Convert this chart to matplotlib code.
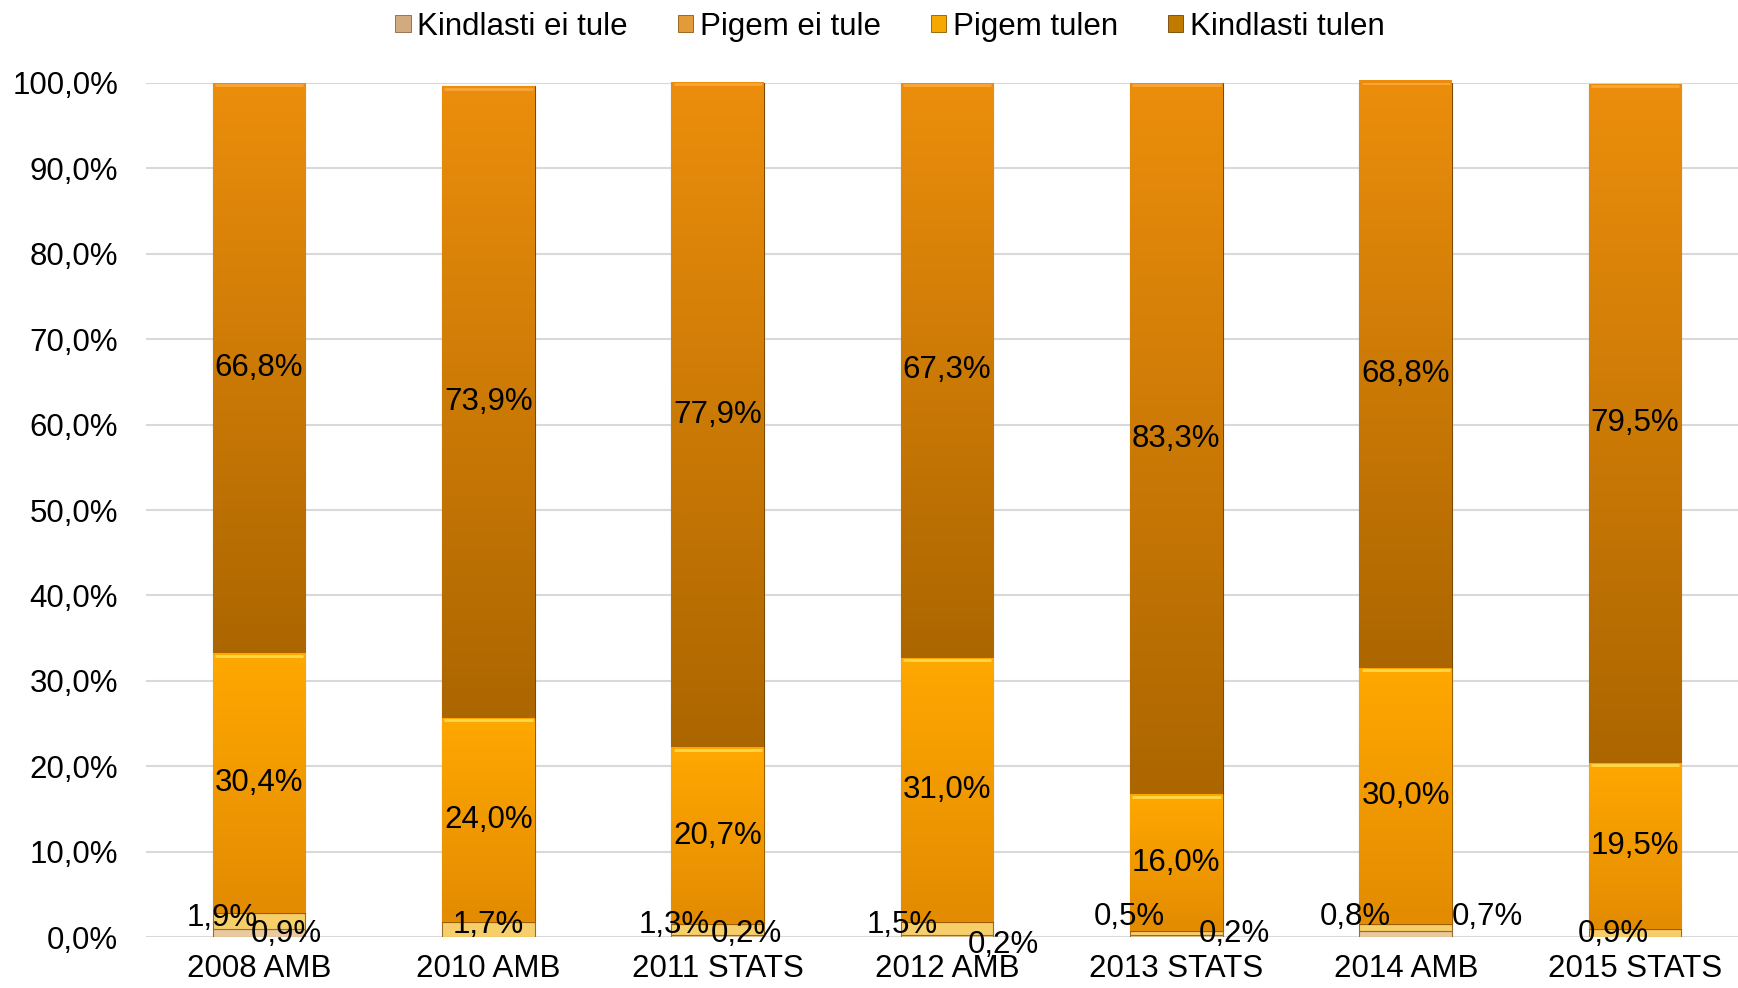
import numpy as np
import matplotlib.pyplot as plt
from matplotlib.patches import Patch
from matplotlib.colors import to_rgb

plt.rcParams['font.family'] = ['Liberation Sans', 'DejaVu Sans']

categories = ["2008 AMB", "2010 AMB", "2011 STATS", "2012 AMB", "2013 STATS", "2014 AMB", "2015 STATS"]
kindlasti_ei_tule = [0.9, 0.0, 0.2, 0.2, 0.2, 0.7, 0.0]
pigem_ei_tule = [1.9, 1.7, 1.3, 1.5, 0.5, 0.8, 0.9]
pigem_tulen = [30.4, 24.0, 20.7, 31.0, 16.0, 30.0, 19.5]
kindlasti_tulen = [66.8, 73.9, 77.9, 67.3, 83.3, 68.8, 79.5]

FS = 22.5
fig = plt.figure(figsize=(17.38, 9.88), dpi=100)
ax = fig.add_axes([146 / 1738, 51 / 988, 1 - 146 / 1738, 1 - 134 / 988])

x = np.arange(len(categories))
w = 0.405
b1 = np.array(kindlasti_ei_tule)
b2 = b1 + np.array(pigem_ei_tule)
b3 = b2 + np.array(pigem_tulen)

ax.bar(x, kindlasti_ei_tule, w, color='#E9C99F', edgecolor='#9C6A2A', linewidth=0.8, zorder=3)
ax.bar(x, pigem_ei_tule, w, bottom=b1, color='#F6CF6A', edgecolor='#9C6A2A', linewidth=0.8, zorder=3)
p3 = ax.bar(x, pigem_tulen, w, bottom=b2, color='#FBA300', edgecolor='#9A5E00', linewidth=0.8, zorder=3)
p4 = ax.bar(x, kindlasti_tulen, w, bottom=b3, color='#C97A03', edgecolor='#7A4A00', linewidth=0.8, zorder=3)


def gradient(patches, top, bottom, bevel):
    c0, c1 = np.array(to_rgb(top)), np.array(to_rgb(bottom))
    t = np.linspace(0, 1, 256)[:, None, None]
    img = c0 * (1 - t) + c1 * t
    for p in patches:
        x0, y0 = p.get_x(), p.get_y()
        im = ax.imshow(img, extent=(x0, x0 + p.get_width(), y0, y0 + p.get_height()),
                       aspect='auto', origin='upper', zorder=3.5, interpolation='bilinear')
        im.set_clip_path(p)
        # thin light bevel at top of segment
        ax.plot([x0 + 0.01, x0 + p.get_width() - 0.01], [y0 + p.get_height() - 0.25] * 2,
                color=bevel, lw=2, zorder=4, solid_capstyle='butt')


gradient(p3, '#FFA800', '#E38B02', '#FFD84A')
gradient(p4, '#EC8E0C', '#AC6600', '#F6A63A')

# main labels, centred in segments
for i in range(len(x)):
    ax.text(x[i], b2[i] + pigem_tulen[i] / 2, f"{pigem_tulen[i]:.1f}%".replace('.', ','),
            ha='center', va='center', fontsize=FS, zorder=6)
    ax.text(x[i], b3[i] + kindlasti_tulen[i] / 2, f"{kindlasti_tulen[i]:.1f}%".replace('.', ','),
            ha='center', va='center', fontsize=FS, zorder=6)

# small segment labels, shifted by hand as in the original
pig_off = [(-0.161, 2.2), (0.0, 1.4), (-0.19, 1.4), (-0.196, 1.4), (-0.205, 2.3), (-0.22, 2.3), (-0.096, 0.35)]
kin_off = [(0.118, 0.35), None, (0.126, 0.35), (0.244, -0.94), (0.253, 0.35), (0.358, 2.3), None]
for i in range(len(x)):
    dx, yy = pig_off[i]
    ax.text(x[i] + dx, yy, f"{pigem_ei_tule[i]:.1f}%".replace('.', ','),
            ha='center', va='center', fontsize=FS, zorder=6)
    if kindlasti_ei_tule[i] > 0 and kin_off[i] is not None:
        dx, yy = kin_off[i]
        ax.text(x[i] + dx, yy, f"{kindlasti_ei_tule[i]:.1f}%".replace('.', ','),
                ha='center', va='center', fontsize=FS, zorder=6)

ax.set_xlim(-0.493, 6.449)
ax.set_ylim(0, 100)
ax.set_yticks(np.arange(0, 101, 10))
ax.set_yticklabels([f"{v:.1f}%".replace('.', ',') for v in np.arange(0, 101, 10)])
ax.set_xticks(x)
ax.set_xticklabels(categories)
ax.tick_params(axis='both', length=0, labelsize=FS)
ax.tick_params(axis='y', pad=20)
ax.tick_params(axis='x', pad=12)
ax.grid(axis='y', color='#D9D9D9', lw=1.5, zorder=0)
ax.set_axisbelow(True)
for s in ax.spines.values():
    s.set_visible(False)

handles = [Patch(facecolor='#D2AA80', edgecolor='#8C6440', lw=0.6),
           Patch(facecolor='#E39A38', edgecolor='#8C5A10', lw=0.6),
           Patch(facecolor='#F5A800', edgecolor='#8C5A00', lw=0.6),
           Patch(facecolor='#C07A00', edgecolor='#6E4400', lw=0.6)]
fig.legend(handles, ["Kindlasti ei tule", "Pigem ei tule", "Pigem tulen", "Kindlasti tulen"],
           loc='center', bbox_to_anchor=(0.512, 0.973), ncol=4, frameon=False, fontsize=FS,
           handlelength=0.5, handleheight=0.5, handletextpad=0.2, columnspacing=1.6)

fig.savefig('out.png', dpi=100)
